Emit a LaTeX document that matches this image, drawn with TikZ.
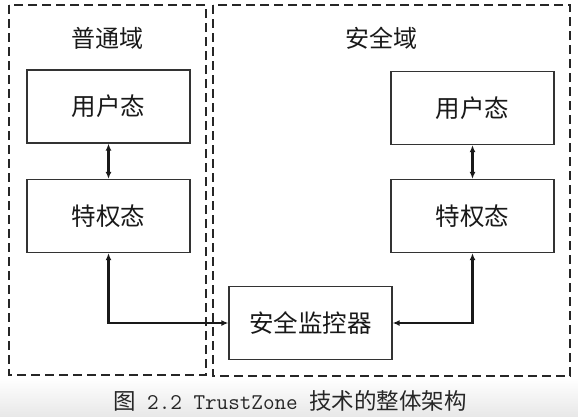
\documentclass[tikz,border=0pt]{standalone}
\usepackage{fontspec}
\newfontfamily\cjk{Noto Sans CJK SC}
\usetikzlibrary{arrows.meta,shadings}
\begin{document}
\begin{tikzpicture}[x=1pt,y=-1pt,
  dombox/.style={draw=black!85,line width=1.4pt,dash pattern=on 9pt off 5pt},
  blk/.style={draw=black!80,line width=1.3pt,minimum width=163pt,minimum height=73pt,
    inner sep=0pt,font=\cjk\fontsize{24.5}{26}\selectfont,text=black!90},
  ttl/.style={font=\cjk\fontsize{24}{26}\selectfont,text=black!90,inner sep=0pt},
  conn/.style={line width=2.4pt,draw=black!90,{Latex[length=7pt,width=6pt]}-{Latex[length=7pt,width=6pt]}}
]
\useasboundingbox (0,0) rectangle (578,416);
\fill[white] (0,0) rectangle (578,416);
\shade[top color=white,bottom color=black!9] (0,378) rectangle (578,416);
% domains
\draw[dombox] (9,5) rectangle (206,375);
\draw[dombox] (213,5) rectangle (570,376);
\node[ttl] (tn) at (107.5,38) {普通域};
\node[ttl] (ts) at (381,38) {安全域};
% boxes
\node[blk] (nu) at (108.5,106.5) {用户态};
\node[blk] (np) at (108.5,216) {特权态};
\node[blk] (su) at (472.5,108) {用户态};
\node[blk] (sp) at (472.5,216) {特权态};
\node[blk] (mon) at (310.5,323) {安全监控器};
% connectors
\draw[conn] (nu.south) -- (np.north);
\draw[conn] (su.south) -- (sp.north);
\draw[conn] (np.south) |- (mon.west);
\draw[conn] (mon.east) -| (sp.south);
% caption
\node[inner sep=0pt,text=black!85] (cap) at (290,401)
 {{\cjk\fontsize{22.5}{24}\selectfont 图}{\ttfamily\fontsize{22.5}{24}\selectfont\ 2.2 TrustZone\ }{\cjk\fontsize{22.5}{24}\selectfont 技术的整体架构}};
\end{tikzpicture}
\end{document}
